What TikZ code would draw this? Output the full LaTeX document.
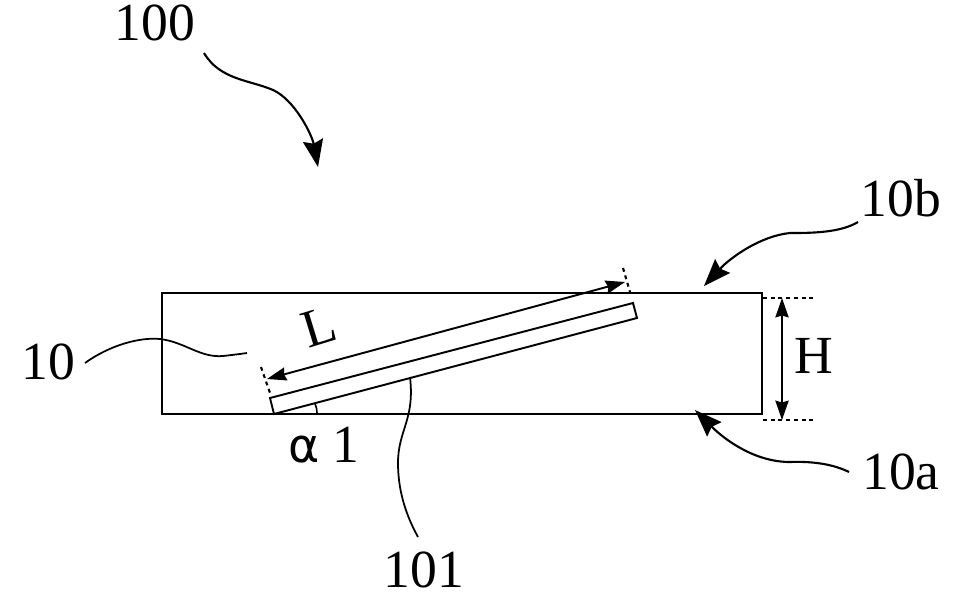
\documentclass[tikz,border=0pt]{standalone}
\usepackage{fontspec}
\setmainfont{Liberation Serif}
\newfontfamily\greekfont{DejaVu Sans}
\usetikzlibrary{arrows.meta}

\begin{document}
\begin{tikzpicture}[x=0.02cm,y=-0.02cm,
	lbl/.style={inner sep=0pt,font=\fontsize{30.5}{30.5}\selectfont},
	leader/.style={line width=1.2pt,-{Stealth[length=15.5pt,width=11.5pt,inset=2pt]}},
	plainleader/.style={line width=1pt},
	dimline/.style={line width=1.1pt,{Stealth[length=11pt,width=7.5pt,inset=1pt]}-{Stealth[length=11pt,width=7.5pt,inset=1pt]}},
	dots/.style={line width=1.2pt,dash pattern=on 2.2pt off 2.2pt}]
	\useasboundingbox (0,0) rectangle (963,606);
	% casing
	\draw[line width=1.4pt] (162,293) rectangle (762,414);
	% strip
	\draw[line width=1.1pt] (274,414) -- (270,398) -- (633,303) -- (637,318) -- cycle;
	\draw[line width=0.9pt] (315,404) to[bend left=12] (317,414);
	% labels
	\node[lbl] (n100) at (155,23) {100};
	\node[lbl] (n10b) at (901,198) {10b};
	\node[lbl] (n10a) at (901,472) {10a};
	\node[lbl] (n10) at (48,362) {10};
	\node[lbl] (n101) at (424,570) {101};
	\node[lbl] (nH) at (814,356) {H};
	\node[lbl,rotate=17] (nL) at (319,327) {L};
	\node[lbl] (nalpha) at (324,445) {{\greekfont\fontsize{27}{27}\selectfont α} 1};
	% leader ends
	\coordinate (s100) at (204,53);
	\coordinate (e100) at (318,167);
	\coordinate (s10b) at (858,222);
	\coordinate (e10b) at (704,286);
	\coordinate (s10a) at (849,472);
	\coordinate (e10a) at (695,410);
	\coordinate (s10) at (85,363);
	\coordinate (e10) at (247,353);
	\coordinate (s101) at (418,537);
	\coordinate (e101) at (410,377);
	\draw[leader] (s100) .. controls (220,80) and (250,80) .. (273,90) .. controls (295,100) and (312,135) .. (e100);
	\draw[leader] (s10b) .. controls (840,233) and (810,233) .. (790,233) .. controls (760,236) and (730,258) .. (e10b);
	\draw[leader] (s10a) .. controls (835,465) and (815,461) .. (790,462) .. controls (755,462) and (725,440) .. (e10a);
	\draw[plainleader] (s10) .. controls (110,345) and (140,337) .. (160,339) .. controls (185,342) and (200,358) .. (223,356) .. controls (232,355) and (240,354) .. (e10);
	\draw[plainleader] (s101) .. controls (403,510) and (398,485) .. (398,463) .. controls (398,430) and (415,420) .. (e101);
	% dimensions
	\coordinate (Lleft) at (267,379);
	\coordinate (Lright) at (625,282);
	\coordinate (Htop) at (782,298);
	\coordinate (Hbot) at (782,420);
	\draw[dimline] (Lleft) -- (Lright);
	\draw[dimline] (Htop) -- (Hbot);
	\draw[dots] (261,367) -- (270,393);
	\draw[dots] (623,268) -- (630,292);
	\draw[dots] (763,298) -- (815,298);
	\draw[dots] (763,420) -- (815,420);
\end{tikzpicture}
\end{document}
